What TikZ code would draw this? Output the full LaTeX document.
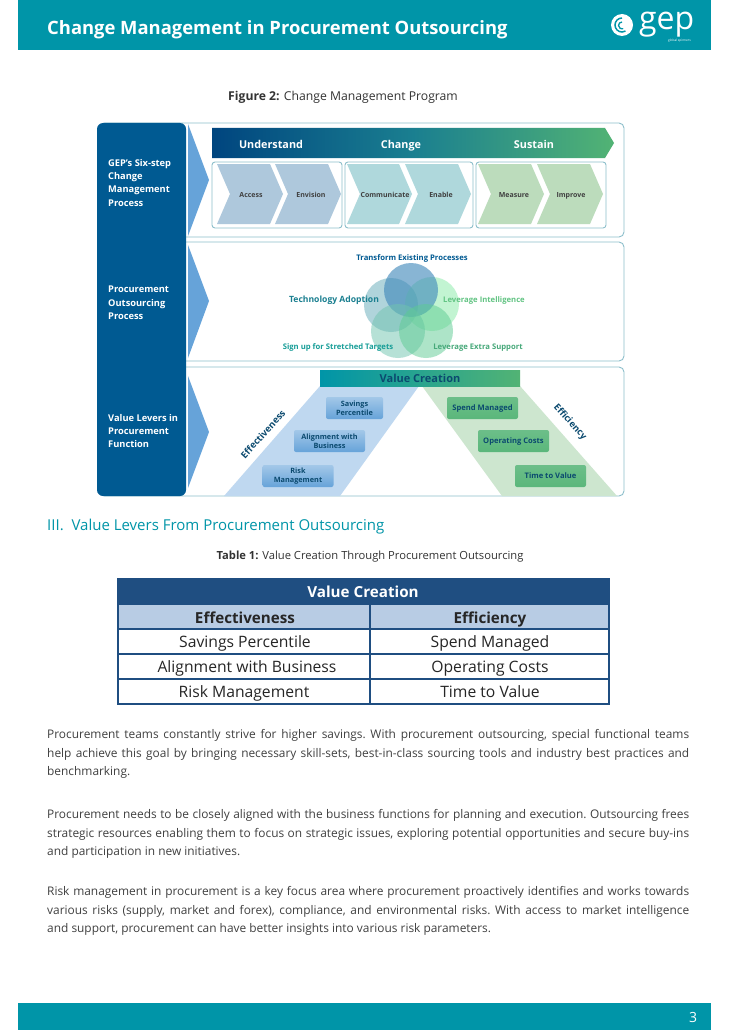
\documentclass[tikz,border=0pt]{standalone}
\usepackage{fontspec}
\setmainfont{Open Sans}
\definecolor{headteal}{HTML}{0095A8}
\definecolor{navy}{HTML}{005A92}
\definecolor{framecol}{HTML}{8DBFCB}
\definecolor{arrowblue}{HTML}{66A3D9}
\definecolor{bandblue}{HTML}{00457F}
\definecolor{bandteal}{HTML}{1A7F90}
\definecolor{bandgreen}{HTML}{52B374}
\definecolor{chevblue}{HTML}{AEC8DC}
\definecolor{chevteal}{HTML}{AFD8DC}
\definecolor{chevgreen}{HTML}{BCDCBC}
\definecolor{trapblue}{HTML}{BFD8F0}
\definecolor{trapgreen}{HTML}{CDE6CF}
\definecolor{tabblue}{HTML}{1F4E81}
\definecolor{tabhead}{HTML}{B8CCE4}
\definecolor{bodygrey}{HTML}{404040}
\definecolor{circa}{HTML}{3F88BA}
\definecolor{circb}{HTML}{62AAB8}
\definecolor{circc}{HTML}{86EBA6}
\definecolor{circd}{HTML}{6FC4AE}
\definecolor{circe}{HTML}{5CCB92}
\definecolor{inktext}{HTML}{0B4A6F}
\tikzset{
  panel/.style={draw=framecol,rounded corners=5pt,line width=0.9pt},
  subbox/.style={draw=framecol,rounded corners=3pt,line width=0.9pt},
  sidetext/.style={text=white,align=left,anchor=north west,inner sep=0pt,font=\fontsize{9.3}{13.3}\selectfont\bfseries},
  chevlabel/.style={text=black!75,anchor=base,inner sep=0pt,font=\fontsize{7}{9}\selectfont\bfseries},
  bandlabel/.style={text=white,anchor=base,inner sep=0pt,font=\fontsize{10.8}{12}\selectfont\bfseries},
  petal/.style={anchor=base,inner sep=0pt,font=\fontsize{7.7}{9}\selectfont\bfseries},
  leverblue/.style={rounded corners=2pt,text=inktext,top color=arrowblue!60,bottom color=arrowblue,minimum width=71pt,minimum height=22pt,inner sep=0pt,align=center,font=\fontsize{7.3}{8.8}\selectfont\bfseries},
  levergreen/.style={leverblue,top color=bandgreen!85,bottom color=bandgreen!95,text height=5.5pt,text depth=0pt,font=\fontsize{7.6}{9}\selectfont\bfseries},
  bodyline/.style={text=bodygrey,anchor=north west,text width=642pt,inner sep=0pt,align=justify,font=\fontsize{11.9}{18.8}\selectfont\frenchspacing},
  tabcell/.style={anchor=base,inner sep=0pt,font=\fontsize{15.7}{18}\selectfont,text=black!85},
  tabbold/.style={tabcell,font=\fontsize{15.2}{18}\selectfont\bfseries}
}
\newcommand{\chevron}[3]{% left, right, colour; top 164, bottom 224
  \fill[#3] (#1,164) -- (#2-13,164) -- (#2,194) -- (#2-13,224) -- (#1,224) -- (#1+13,194) -- cycle;
}
\begin{document}
\begin{tikzpicture}[x=1pt,y=-1pt]
  \useasboundingbox (0,0) rectangle (728,1030);
  \fill[white] (0,0) rectangle (728,1030);
  % header and footer
  \fill[headteal] (18,0) rectangle (711,50);
  \fill[headteal] (18,1003) rectangle (711,1030);
  \node[text=white,anchor=west,inner sep=0pt,font=\fontsize{18.4}{20}\selectfont\bfseries] (title) at (47,30) {Change Management in Procurement Outsourcing};
  \node[text=white,font=\fontsize{14}{16}\selectfont] (pageno) at (693,1017) {3};
  % logo
  \fill[white] (622,25) circle (11);
  \draw[headteal,line width=1.5pt] (622,18) arc (-90:-300:7);
  \draw[headteal,line width=1.3pt] (622,22) arc (-90:-290:3.5);
  \node[text=white,anchor=base west,inner sep=0pt,font=\fontsize{32}{32}\selectfont] (gep) at (639,30) {gep};
  \node[text=white,anchor=east,inner sep=0pt,font=\fontsize{3.2}{4}\selectfont] (tagline) at (691,41) {global spinners};
  \node[text=black!80,font=\fontsize{12.2}{14}\selectfont] (figcap) at (343,97.5) {\textbf{Figure 2:} Change Management Program};
  % three panels
  \draw[panel] (100,123) rectangle (624,237);
  \draw[panel] (100,242) rectangle (624,361);
  \draw[panel] (100,367) rectangle (624,496);
  \fill[navy,rounded corners=6pt] (97,123) rectangle (186,496);
  \fill[arrowblue] (188,124) -- (209,180) -- (188,236) -- cycle;
  \fill[arrowblue] (188,245) -- (209,301) -- (188,358) -- cycle;
  \fill[arrowblue] (188,376) -- (209,432) -- (188,488) -- cycle;
  \node[sidetext] (sidea) at (108,159) {GEP's Six-step\\Change\\Management\\Process};
  \node[sidetext] (sideb) at (108,286) {Procurement\\Outsourcing\\Process};
  \node[sidetext] (sidec) at (108,414) {Value Levers in\\Procurement\\Function};
  % top: band and chevrons
  \shade[left color=bandblue,right color=bandgreen,middle color=bandteal] (212,128) -- (605,128) -- (614,143) -- (605,158) -- (212,158) -- cycle;
  \node[bandlabel] (understand) at (271,148) {Understand};
  \node[bandlabel] (change) at (401,148) {Change};
  \node[bandlabel] (sustain) at (534,148) {Sustain};
  \draw[subbox] (212,162) rectangle (342,228);
  \draw[subbox] (345,162) rectangle (473,228);
  \draw[subbox] (476,162) rectangle (606,228);
  \chevron{217}{283}{chevblue}
  \chevron{275}{341}{chevblue}
  \chevron{347}{412}{chevteal}
  \chevron{405}{471}{chevteal}
  \chevron{478}{544}{chevgreen}
  \chevron{537}{603}{chevgreen}
  \node[chevlabel] (access) at (251,197) {Access};
  \node[chevlabel] (envision) at (311,197) {Envision};
  \node[chevlabel] (communicate) at (385,197) {Communicate};
  \node[chevlabel] (enable) at (441,197) {Enable};
  \node[chevlabel] (measure) at (514,197) {Measure};
  \node[chevlabel] (improve) at (571,197) {Improve};
  % middle: five circles
  \begin{scope}[fill opacity=0.5]
    \fill[circb] (391,305) circle (27);
    \fill[circc] (432,304) circle (27);
    \fill[circa,fill opacity=0.62] (411,290) circle (27);
    \fill[circd] (398,331) circle (27);
    \fill[circe] (426,331) circle (27);
  \end{scope}
  \node[petal,text=navy] (transform) at (412,260) {Transform Existing Processes};
  \node[petal,text=bandteal,font=\fontsize{8.6}{10}\selectfont\bfseries] (techno) at (334,302) {Technology Adoption};
  \node[petal,text=bandgreen!70!circc] (intel) at (484,302) {Leverage Intelligence};
  \node[petal,text=headteal!70!bandgreen] (stretch) at (338,349) {Sign up for Stretched Targets};
  \node[petal,text=bandgreen!80!bandteal] (support) at (478,349) {Leverage Extra Support};
  % bottom: value creation
  \fill[trapblue] (320,386) -- (419,386) -- (340,496) -- (224,496) -- cycle;
  \fill[trapgreen] (422,386) -- (520,386) -- (617,496) -- (502,496) -- cycle;
  \shade[left color=headteal,right color=bandgreen] (320,370) rectangle (520,386);
  \node[text=inktext,font=\fontsize{11}{12}\selectfont\bfseries] (valuec) at (420,378) {Value Creation};
  \node[rotate=48,text=inktext,font=\fontsize{9.3}{10}\selectfont\bfseries] (effect) at (263,434) {Effectiveness};
  \node[rotate=-48,text=inktext,font=\fontsize{9.2}{10}\selectfont\bfseries] (effic) at (570,422) {Efficiency};
  \node[leverblue,minimum width=57pt] (savings) at (354.5,408) {Savings\\Percentile};
  \node[leverblue] (align) at (329.5,441) {Alignment with\\Business};
  \node[leverblue] (risk) at (298,476) {Risk\\Management};
  \node[levergreen] (spend) at (482.5,408) {Spend Managed};
  \node[levergreen] (opcost) at (513.5,441) {Operating Costs};
  \node[levergreen] (timeval) at (550.5,476) {Time to Value};
  % section title and table
  \node[anchor=west,inner sep=0pt,text=headteal,font=\fontsize{15}{18}\selectfont] (section) at (47,527) {III.~~Value Levers From Procurement Outsourcing};
  \node[text=black!80,font=\fontsize{11.2}{13}\selectfont] (tabcap) at (370,556.5) {\textbf{Table 1:} Value Creation Through Procurement Outsourcing};
  \fill[tabblue] (117,578) rectangle (610,604);
  \fill[tabhead] (117,604) rectangle (610,629);
  \draw[tabblue,line width=1.6pt] (118,604) rectangle (609,704);
  \draw[tabblue,line width=1.6pt] (118,629) -- (609,629);
  \draw[tabblue,line width=1.6pt] (118,654) -- (609,654);
  \draw[tabblue,line width=1.6pt] (118,679) -- (609,679);
  \draw[tabblue,line width=1.6pt] (370,604) -- (370,704);
  \node[tabbold,text=white] (tabtop) at (363,597) {Value Creation};
  \node[tabbold] (tabl) at (245,623) {Effectiveness};
  \node[tabbold] (tabr) at (490,623) {Efficiency};
  \node[tabcell] (tabla) at (245,647) {Savings Percentile};
  \node[tabcell] (tabra) at (490,647) {Spend Managed};
  \node[tabcell] (tablb) at (247,672) {Alignment with Business};
  \node[tabcell] (tabrb) at (490,672) {Operating Costs};
  \node[tabcell] (tablc) at (244,697) {Risk Management};
  \node[tabcell] (tabrc) at (490,697) {Time to Value};
  % body text
  \node[bodyline] (para1) at (47,729) {Procurement teams constantly strive for higher savings. With procurement outsourcing, special functional teams\linebreak help achieve this goal by bringing necessary skill-sets, best-in-class sourcing tools and industry best practices and\linebreak benchmarking.};
  \node[bodyline] (para2) at (47,809) {Procurement needs to be closely aligned with the business functions for planning and execution. Outsourcing frees\linebreak strategic resources enabling them to focus on strategic issues, exploring potential opportunities and secure buy-ins\linebreak and participation in new initiatives.};
  \node[bodyline] (para3) at (47,886) {Risk management in procurement is a key focus area where procurement proactively identifies and works towards\linebreak various risks (supply, market and forex), compliance, and environmental risks. With access to market intelligence\linebreak and support, procurement can have better insights into various risk parameters.};
\end{tikzpicture}
\end{document}
